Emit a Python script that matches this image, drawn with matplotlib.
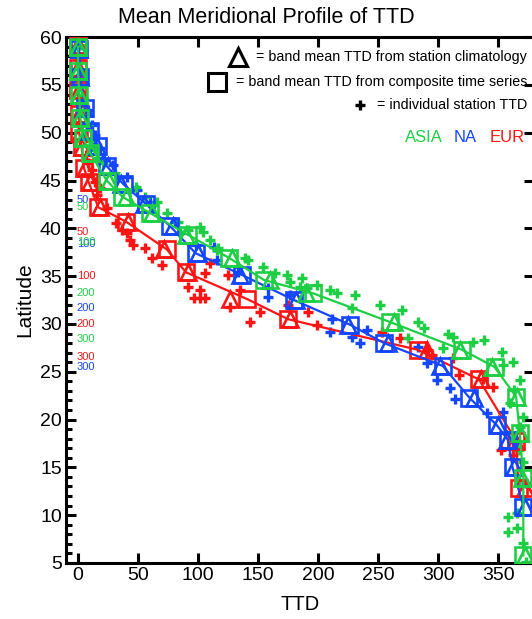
import matplotlib
matplotlib.use("Agg")
import matplotlib.pyplot as plt
from matplotlib.ticker import MultipleLocator

plt.rcParams["font.family"] = ["Liberation Sans", "DejaVu Sans"]

OUTPUT = "out.png"

GREEN = "#1ECF45"
BLUE = "#1446FF"
RED = "#FF1414"

# ---- EUR (red) ----
EUR_BAND_LAT = [59.2, 56.8, 54.5, 52.0, 50.0, 48.5, 46.3, 44.8, 42.2, 40.7,
                37.8, 35.4, 32.6, 30.5, 27.3, 24.2, 17.8, 12.8]
EUR_COMP_TTD = [0, 0, 0, 1, 1, 3, 5, 9, 17, 40, 74, 90, 141, 175, 283, 334, 365, 367]
EUR_CLIM_TTD = [0, 0, 1, 1, 2, 3, 6, 10, 18, 42, 72, 92, 127, 177, 291, 336, 364, 372]
EUR_STATIONS = [  # (TTD, latitude)
    (1, 59.7), (2, 57.6), (1, 55.0), (2, 52.9), (2, 50.8), (5, 49.2), (7, 47.7),
    (8, 46.8), (12, 46.1), (14, 44.8), (18, 44.2), (16, 43.5), (24, 42.1),
    (32, 40.6), (37, 39.8), (41, 39.5), (43, 38.8), (46, 38.3), (56, 37.9),
    (62, 36.9), (70, 36.2), (92, 33.9), (102, 33.6), (97, 32.7), (102, 32.7),
    (106, 32.7), (106, 35.3), (110, 36.4), (125, 35.1), (127, 31.8), (135, 33.6),
    (152, 31.3), (143, 30.2), (175, 32.0), (192, 31.2), (199, 29.9), (253, 29.2),
    (268, 28.5), (292, 27.3), (295, 26.8), (312, 26.4), (317, 24.7), (337, 24.2),
    (346, 23.4), (352, 16.8), (362, 17.0), (362, 16.3),
]
EUR_LABEL_LAT = [39.61, 35.01, 29.99, 26.54]
EUR_LABEL_TXT = ["50", "100", "200", "300"]

# ---- NA (blue) ----
NA_BAND_LAT = [58.8, 55.8, 52.6, 50.2, 48.6, 46.5, 44.6, 42.5, 40.2, 37.4,
               35.1, 32.5, 29.9, 28.0, 25.6, 22.3, 19.4, 17.9, 15.0, 10.9]
NA_COMP_TTD = [1, 2, 6, 10, 17, 24, 38, 57, 77, 98, 137, 180, 227, 255, 304,
               326, 349, 358, 362, 371]
NA_CLIM_TTD = [1, 2, 5, 9, 16, 25, 36, 55, 79, 100, 135, 182, 225, 258, 302,
               330, 350, 357, 363, 372]
NA_STATIONS = [
    (2, 55.5), (3, 53.4), (8, 52.4), (12, 50.8), (14, 49.8), (18, 48.4),
    (22, 47.1), (29, 46.6), (41, 45.4), (49, 44.0), (60, 42.8), (81, 40.7),
    (85, 39.5), (98, 38.3), (113, 38.0), (116, 36.7), (133, 35.4), (158, 33.8),
    (158, 32.8), (177, 33.0), (212, 30.5), (210, 29.2), (228, 28.6), (235, 28.0),
    (241, 29.4), (283, 27.6), (291, 25.9), (299, 24.1), (310, 23.3), (314, 22.1),
    (341, 20.7), (354, 20.8), (366, 17.7), (373, 13.4),
]
NA_LABEL_LAT = [42.96, 38.36, 31.66, 25.5]
NA_LABEL_TXT = ["50", "100", "200", "300"]

# ---- ASIA (green) ----
ASIA_BAND_LAT = [59.0, 56.5, 54.0, 51.5, 49.5, 47.9, 45.0, 43.3, 41.6, 39.3,
                 36.9, 34.6, 33.2, 30.2, 27.3, 25.5, 22.4, 18.6, 13.9, 5.8]
ASIA_COMP_TTD = [0, 0, 1, 2, 4, 10, 24, 37, 60, 92, 126, 155, 196, 260, 320,
                 347, 365, 368, 371, 371]
ASIA_CLIM_TTD = [0, 0, 1, 2, 4, 11, 26, 40, 62, 90, 128, 160, 190, 263, 318,
                 345, 366, 368, 370, 372]
ASIA_STATIONS = [
    (2, 59.2), (1, 57.6), (2, 56.0), (3, 53.9), (5, 52.4), (8, 50.8), (12, 49.2),
    (14, 48.2), (17, 47.4), (21, 46.8), (31, 45.8), (48, 44.3), (56, 43.3),
    (66, 42.8), (74, 41.6), (83, 40.7), (92, 39.8), (102, 40.1), (104, 39.6),
    (110, 38.8), (117, 37.9), (116, 37.7), (139, 36.9), (142, 36.7), (154, 36.0),
    (164, 35.3), (174, 35.1), (177, 34.4), (187, 34.8), (191, 33.8), (199, 34.1),
    (185, 33.9), (210, 33.6), (216, 33.2), (231, 33.0), (228, 31.7), (252, 32.0),
    (270, 31.5), (283, 30.2), (288, 29.6), (275, 28.5), (308, 28.9), (312, 28.6),
    (304, 27.5), (338, 28.3), (329, 28.1), (353, 27.1), (362, 26.0), (354, 25.7),
    (368, 24.1), (363, 23.1), (360, 21.7), (371, 20.3), (368, 19.2), (367, 16.8),
    (371, 15.6), (367, 13.7), (358, 9.8), (366, 10.2), (358, 8.2), (366, 8.7),
    (371, 7.1), (373, 5.1),
]
ASIA_LABEL_LAT = [42.22, 38.57, 33.23, 28.42]
ASIA_LABEL_TXT = ["50", "100", "200", "300"]

REGIONS = [
    # drawn in this order: red under blue under green
    (RED, EUR_BAND_LAT, EUR_COMP_TTD, EUR_CLIM_TTD, EUR_STATIONS,
     EUR_LABEL_LAT, EUR_LABEL_TXT),
    (BLUE, NA_BAND_LAT, NA_COMP_TTD, NA_CLIM_TTD, NA_STATIONS,
     NA_LABEL_LAT, NA_LABEL_TXT),
    (GREEN, ASIA_BAND_LAT, ASIA_COMP_TTD, ASIA_CLIM_TTD, ASIA_STATIONS,
     ASIA_LABEL_LAT, ASIA_LABEL_TXT),
]


def main():
    fig = plt.figure(figsize=(5.32, 6.19), dpi=100)
    ax = fig.add_axes([0.124, 0.0905, 0.880, 0.8495])

    for color, band_lat, comp, clim, stations, lab_lat, lab_txt in REGIONS:
        st_ttd = [s[0] for s in stations]
        st_lat = [s[1] for s in stations]
        ax.plot(st_ttd, st_lat, "+", color=color, ms=7, mew=2.4, zorder=2)
        ax.plot(comp, band_lat, "-", color=color, lw=1.6, zorder=3)
        ax.plot(comp, band_lat, "s", mfc="none", mec=color, ms=12, mew=1.9,
                zorder=3)
        ax.plot(clim, band_lat, "^", mfc="none", mec=color, ms=12, mew=1.9,
                zorder=3)
        for lat, txt in zip(lab_lat, lab_txt):
            ax.text(-1, lat, txt, color=color, fontsize=8, ha="left",
                    va="center", zorder=4)

    ax.set_xlim(-10, 380)
    ax.set_ylim(5, 60)
    ax.xaxis.set_major_locator(MultipleLocator(50))
    ax.yaxis.set_major_locator(MultipleLocator(5))
    ax.yaxis.set_minor_locator(MultipleLocator(1))
    ax.tick_params(which="both", direction="in", top=True, right=True,
                   labelsize=14, width=2.2, pad=3)
    ax.tick_params(which="major", length=7.5)
    ax.tick_params(which="minor", length=4.3, right=False)
    for spine in ax.spines.values():
        spine.set_linewidth(2.2)

    ax.set_xlabel("TTD", fontsize=14.5, labelpad=8)
    ax.set_ylabel("Latitude", fontsize=15, labelpad=4)
    fig.text(0.5, 0.9725, "Mean Meridional Profile of TTD", fontsize=15.5,
             ha="center", va="center")

    # legend-like annotations
    tr = ax.transAxes
    ax.plot([0.3675], [0.962], "^", mfc="none", mec="black", ms=13, mew=2.2,
            transform=tr, clip_on=False)
    ax.text(0.985, 0.962, "= band mean TTD from station climatology",
            transform=tr, fontsize=10.3, ha="right", va="center")
    ax.plot([0.3226], [0.9145], "s", mfc="none", mec="black", ms=13, mew=2.2,
            transform=tr, clip_on=False)
    ax.text(0.985, 0.9145, "= band mean TTD from composite time series",
            transform=tr, fontsize=10.3, ha="right", va="center")
    ax.plot([0.628], [0.871], "+", color="black", ms=7, mew=2.4,
            transform=tr, clip_on=False)
    ax.text(0.985, 0.871, "= individual station TTD",
            transform=tr, fontsize=10.3, ha="right", va="center")

    ax.text(0.7244, 0.810, "ASIA", color=GREEN, transform=tr, fontsize=12,
            ha="left", va="center")
    ax.text(0.829, 0.810, "NA", color=BLUE, transform=tr, fontsize=12,
            ha="left", va="center")
    ax.text(0.906, 0.810, "EUR", color=RED, transform=tr, fontsize=12,
            ha="left", va="center")

    fig.savefig(OUTPUT, dpi=100)


if __name__ == "__main__":
    main()
